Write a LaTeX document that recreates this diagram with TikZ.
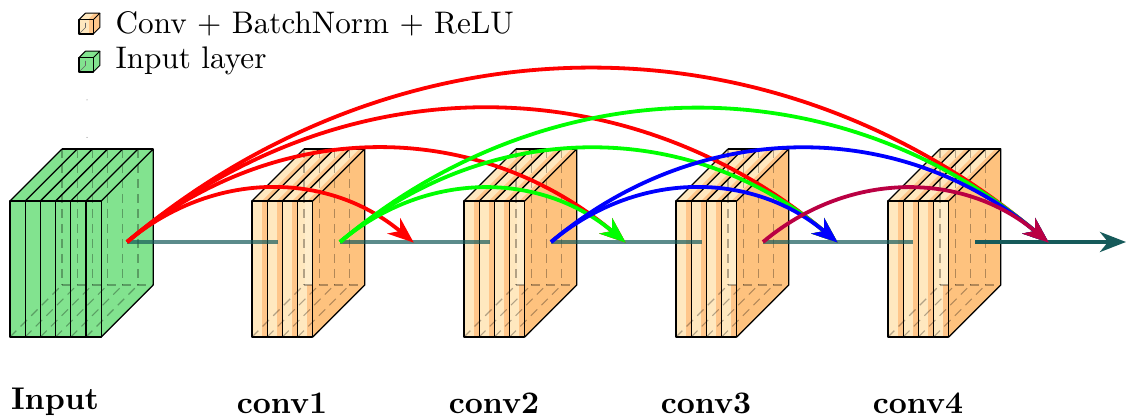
\documentclass[tikz,border=0pt]{standalone}
\usetikzlibrary{arrows.meta,calc}
\definecolor{lightor}{HTML}{FFE8BF}
\definecolor{paleor}{HTML}{FFEDCB}
\definecolor{midor}{HTML}{FFC68A}
\definecolor{sideor}{HTML}{FEC27E}
\definecolor{greenf}{HTML}{82E38F}
\definecolor{tealc}{HTML}{165A5A}
\definecolor{purp}{HTML}{BA0043}
\tikzset{
  x=1pt,y=1pt,
  edgeline/.style={draw=black,line width=1.3pt,line join=round},
  hiddenline/.style={draw=black,draw opacity=0.3,line width=1.1pt,dash pattern=on 9pt off 6pt},
  linkline/.style={draw=tealc,draw opacity=0.7,line width=4pt},
  outline/.style={draw=tealc,line width=4pt,-{Stealth[length=26pt,width=20pt,inset=8pt]}},
  skiplink/.style={line width=3.8pt,-{Stealth[length=26pt,width=20pt,inset=8pt]},bend left=40,shorten >=-1pt},
  title/.style={font=\bfseries,scale=3.14,anchor=base,inner sep=0pt},
  legendtext/.style={scale=3.12,anchor=base west,inner sep=0pt},
}
% #1 x of front left, #2 number of slices, #3 front colour, #4 stripe colour, #5 side colour, #6 last-slice pale colour
\newcommand{\blockc}[6]{%
  \pgfmathsetmacro{\sw}{15.2}
  \pgfmathsetmacro{\xr}{#1+#2*\sw}
  % right face
  \fill[#5] (\xr,82) -- (\xr+52,134) -- (\xr+52,270) -- (\xr,218) -- cycle;
  % top and front
  \foreach \i in {1,...,#2}{
    \pgfmathsetmacro{\xa}{#1+(\i-1)*\sw}
    \pgfmathsetmacro{\xb}{\xa+\sw}
    \fill[#3] (\xa,218) -- (\xa+52,270) -- (\xb+52,270) -- (\xb,218) -- cycle;
    \fill[#3] (\xa,82) rectangle (\xb,218);
    \fill[#4] (\xa+9.8,218) -- (\xa+61.8,270) -- (\xb+52,270) -- (\xb,218) -- cycle;
    \ifnum\i<#2\relax
      \fill[#4] (\xa+9.8,82) rectangle (\xb,218);
    \else
      \fill[#6] (\xa+7,134) rectangle (\xb,218);
      \fill[#4] (\xa+9.8,82) rectangle (\xb,134);
    \fi
  }
  % hidden edges
  \foreach \i in {0,...,#2}{
    \pgfmathsetmacro{\xa}{#1+\i*\sw}
    \ifnum\i<#2\relax \draw[hiddenline] (\xa+52,270) -- (\xa+52,134);\fi
    \draw[hiddenline] (\xa,82) -- (\xa+52,134);
  }
  \draw[hiddenline] (#1+52,134) -- (\xr+52,134);
  % visible edges
  \foreach \i in {1,...,#2}{
    \pgfmathsetmacro{\xa}{#1+(\i-1)*\sw}
    \pgfmathsetmacro{\xb}{\xa+\sw}
    \draw[edgeline] (\xa,82) rectangle (\xb,218);
    \draw[edgeline] (\xa,218) -- (\xa+52,270);
  }
  \draw[edgeline] (\xr,218) -- (\xr+52,270) -- (\xr+52,134) -- (\xr,82);
  \draw[edgeline] (#1+52,270) -- (\xr+52,270);
}
% #1 x, #2 y (front lower left), #3 front, #4 side
\newcommand{\legendcube}[4]{%
  \fill[#4] (#1+14.3,#2) -- (#1+20.8,#2+6.5) -- (#1+20.8,#2+20.8) -- (#1+14.3,#2+14.3) -- cycle;
  \fill[#3] (#1,#2+14.3) -- (#1+6.5,#2+20.8) -- (#1+20.8,#2+20.8) -- (#1+14.3,#2+14.3) -- cycle;
  \fill[#3] (#1,#2) rectangle (#1+14.3,#2+14.3);
  \fill[#4] (#1+9,#2+14.3) -- (#1+15.5,#2+20.8) -- (#1+20.8,#2+20.8) -- (#1+14.3,#2+14.3) -- cycle;
  \fill[#4] (#1+10,#2) rectangle (#1+14.3,#2+14.3);
  \draw[black!60,line width=0.6pt] (#1,#2) -- (#1+6.5,#2+6.5) -- (#1+6.5,#2+11);
  \draw[edgeline,line width=1.3pt] (#1,#2) rectangle (#1+14.3,#2+14.3);
  \draw[edgeline,line width=1pt] (#1,#2+14.3) -- (#1+6.5,#2+20.8) -- (#1+20.8,#2+20.8) -- (#1+14.3,#2+14.3);
  \draw[edgeline,line width=1pt] (#1+14.3,#2) -- (#1+20.8,#2+6.5) -- (#1+20.8,#2+20.8);
}
\begin{document}
\begin{tikzpicture}
\useasboundingbox (0,0) rectangle (1127,419);
\blockc{10}{6}{greenf}{greenf}{greenf}{greenf}
\blockc{252}{4}{lightor}{midor}{sideor}{paleor}
\blockc{464}{4}{lightor}{midor}{sideor}{paleor}
\blockc{676}{4}{lightor}{midor}{sideor}{paleor}
\blockc{888}{4}{lightor}{midor}{sideor}{paleor}
\legendcube{79}{385}{lightor}{midor}
\legendcube{79}{347}{greenf}{greenf}
\node[legendtext] (l1) at (115,385) {Conv + BatchNorm + ReLU};
\node[legendtext] (l2) at (115,350) {Input layer};
\fill[black!60] (87,319) circle (0.5pt);
\fill[black!60] (87,281.5) circle (0.5pt);
\node[title] (tin) at (55,9) {Input};
\node[title] (t1) at (282,5) {conv1};
\node[title] (t2) at (494,5) {conv2};
\node[title] (t3) at (706,5) {conv3};
\node[title] (t4) at (918,5) {conv4};
\coordinate (s0) at (127,177);
\coordinate (s1) at (340,177);
\coordinate (s2) at (551,177);
\coordinate (s3) at (763,177);
\coordinate (s4) at (975,177);
\coordinate (e1) at (278,177);
\coordinate (e2) at (490,177);
\coordinate (e3) at (702,177);
\coordinate (e4) at (913,177);
\coordinate (e5) at (1126,177);
\coordinate (a1) at (413,177);
\coordinate (a2) at (625,177);
\coordinate (a3) at (837,177);
\coordinate (a4) at (1048,177);
\draw[linkline] (s0) -- (e1);
\draw[linkline] (s1) -- (e2);
\draw[linkline] (s2) -- (e3);
\draw[linkline] (s3) -- (e4);
\draw[outline] (s4) -- (e5);
\draw[skiplink,red] (s0) to (a1);
\draw[skiplink,red] (s0) to (a2);
\draw[skiplink,red] (s0) to (a3);
\draw[skiplink,red] (s0) to (a4);
\draw[skiplink,green] (s1) to (a2);
\draw[skiplink,green] (s1) to (a3);
\draw[skiplink,green] (s1) to (a4);
\draw[skiplink,blue] (s2) to (a3);
\draw[skiplink,blue] (s2) to (a4);
\draw[skiplink,purp] (s3) to (a4);
\end{tikzpicture}
\end{document}
